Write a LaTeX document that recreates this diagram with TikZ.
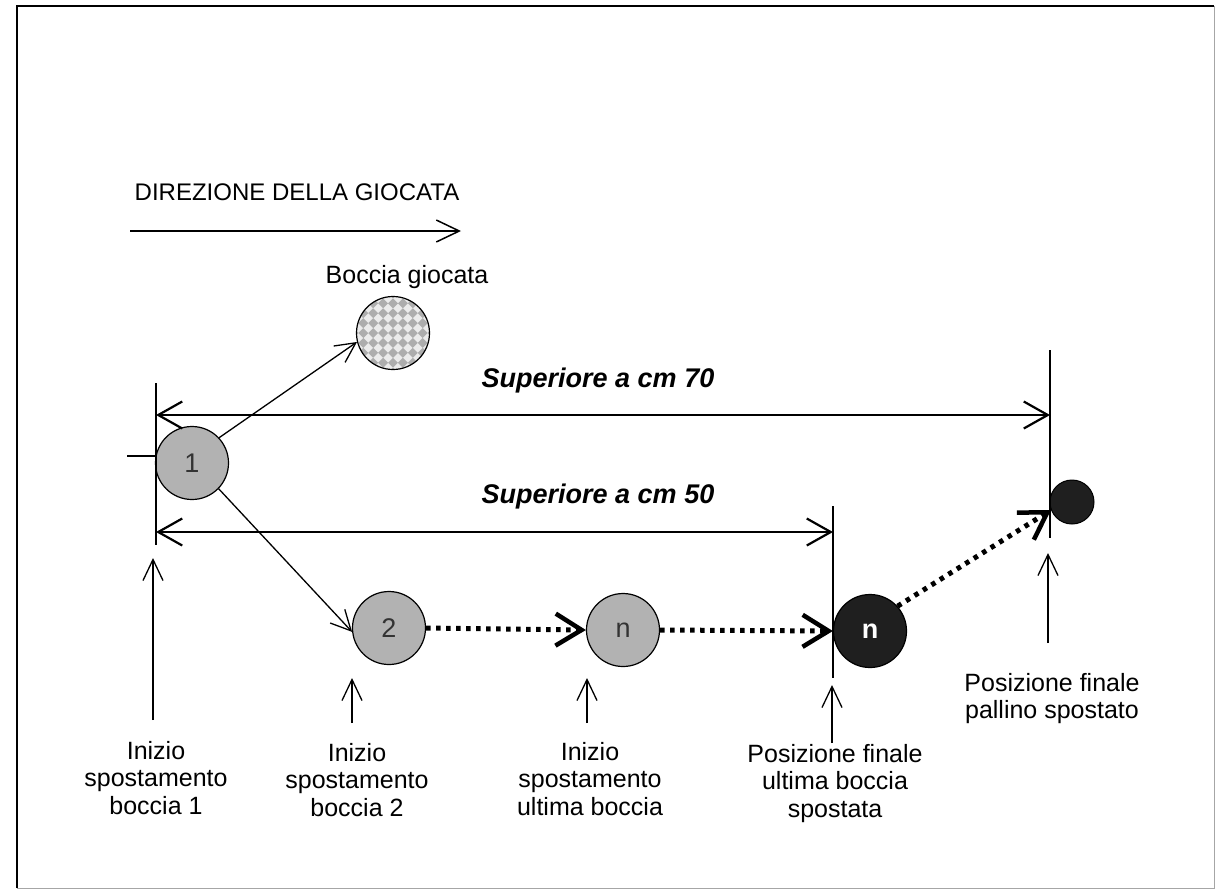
\documentclass[tikz,border=0pt]{standalone}
\usepackage{fontspec}
\setmainfont{Liberation Sans}
\usetikzlibrary{arrows.meta}
\begin{document}
\begin{tikzpicture}[x=1pt,y=-1pt,
  ball/.style={circle, draw=black, line width=1.2pt, minimum size=73pt, inner sep=0pt,
    fill=black!30, text=black!80, font=\fontsize{27}{27}\selectfont},
  darkball/.style={ball, fill=black!88, text=white, font=\fontsize{27}{27}\selectfont\bfseries},
  pallinostyle/.style={circle, draw=black, line width=1pt, minimum size=44pt, inner sep=0pt, fill=black!88},
  thinline/.style={line width=1.3pt},
  thinarrow/.style={line width=1.3pt, -{Straight Barb[length=20pt,width=20pt]}},
  ptr/.style={line width=1.3pt, -{Straight Barb[length=21pt,width=20pt]}},
  dimline/.style={line width=2.2pt, {Straight Barb[length=24pt,width=27pt]}-{Straight Barb[length=24pt,width=27pt]}},
  dotarrow/.style={line width=5pt, dash pattern=on 4.5pt off 5.5pt,
    -{Straight Barb[length=26pt,width=32pt,line width=4.5pt]}},
  lbl/.style={align=center, inner sep=0pt, anchor=north, font=\fontsize{25}{27.5}\selectfont},
  dimtext/.style={inner sep=0pt, font=\fontsize{27}{27}\selectfont\bfseries\itshape},
]
\useasboundingbox (0,0) rectangle (1217,892);
% frame
\coordinate (fa) at (17,888);
\coordinate (fb) at (17,6);
\coordinate (fc) at (1214,6);
\coordinate (fd) at (1214,888);
\draw[line width=2pt] (fa) -- (fb) -- (fc);
\draw[line width=1pt, black!35] (fc) -- (fd) -- (fa);

% direction of play
\node[inner sep=0pt, font=\fontsize{24}{24}\selectfont] (dir) at (297,192) {DIREZIONE DELLA GIOCATA};
\coordinate (da) at (130,231);
\coordinate (db) at (461,231);
\draw[line width=1.5pt, -{Straight Barb[length=23pt,width=22pt]}] (da) -- (db);

% boccia giocata
\node[inner sep=0pt, font=\fontsize{25}{25}\selectfont] (bgl) at (407,277) {Boccia giocata};
\coordinate (bgc) at (393,333);
\begin{scope}
  \clip (bgc) circle (36.5);
  \fill[black!8] (bgc) circle (36.5);
  \foreach \i in {-6,...,6}{
    \foreach \j in {-6,...,6}{
      \pgfmathtruncatemacro\k{mod(\i+\j+20,2)}
      \ifnum\k=0
        \fill[black!32, shift={(bgc)}, rotate=45] (\i*7-3.5,\j*7-3.5) rectangle ++(7,7);
      \fi
    }
  }
\end{scope}
\node[circle, draw=black, line width=1.2pt, minimum size=73pt, inner sep=0pt] (bg) at (bgc) {};

% balls
\node[ball] (b1) at (192,463) {1};
\node[ball] (b2) at (389,628) {2};
\node[ball] (bn) at (623,630) {n};
\node[darkball] (dn) at (870,631) {n};
\node[pallinostyle] (pal) at (1072,502) {};

% small tick left of ball 1
\coordinate (tk1) at (127,456);
\coordinate (tk2) at (156,456);
\draw[thinline] (tk1) -- (tk2);

% extension lines
\coordinate (e1t) at (156,383);
\coordinate (e1b) at (156,545);
\coordinate (e2t) at (833,506);
\coordinate (e2b) at (833,678);
\coordinate (e3t) at (1050,350);
\coordinate (e3b) at (1050,538);
\draw[thinline] (e1t) -- (e1b);
\draw[thinline] (e2t) -- (e2b);
\draw[thinline] (e3t) -- (e3b);

% dimension lines
\coordinate (d70a) at (156,415);
\coordinate (d70b) at (1050,415);
\coordinate (d50a) at (156,532);
\coordinate (d50b) at (833,532);
\draw[dimline] (d70a) -- (d70b);
\draw[dimline] (d50a) -- (d50b);
\node[dimtext] (t70) at (598,381) {Superiore a cm 70};
\node[dimtext] (t50) at (598,497) {Superiore a cm 50};

% movement arrows
\draw[thinarrow] (b1.43) -- (bg.194);
\draw[thinarrow] (b1.-44) -- (b2.186);
\draw[dotarrow] (b2.east) -- (bn.west);
\draw[dotarrow] (bn.east) -- (dn.west);
\draw[dotarrow] (dn.42) -- (pal.201);

% pointer arrows
\coordinate (p1b) at (153,720);
\coordinate (p1t) at (153,558);
\coordinate (p2b) at (352,723);
\coordinate (p2t) at (352,678);
\coordinate (p3b) at (587,723);
\coordinate (p3t) at (587,678);
\coordinate (p4b) at (832,743);
\coordinate (p4t) at (832,685);
\coordinate (p5b) at (1048,643);
\coordinate (p5t) at (1048,553);
\draw[ptr] (p1b) -- (p1t);
\draw[ptr] (p2b) -- (p2t);
\draw[ptr] (p3b) -- (p3t);
\draw[ptr] (p4b) -- (p4t);
\draw[ptr] (p5b) -- (p5t);

% labels
\node[lbl] (l1) at (156,741) {Inizio\\spostamento\\boccia 1};
\node[lbl] (l2) at (357,743) {Inizio\\spostamento\\boccia 2};
\node[lbl] (l3) at (590,742) {Inizio\\spostamento\\ultima boccia};
\node[lbl] (l4) at (835,744) {Posizione finale\\ultima boccia\\spostata};
\node[lbl] (l5) at (1052,673) {Posizione finale\\pallino spostato};
\end{tikzpicture}
\end{document}
